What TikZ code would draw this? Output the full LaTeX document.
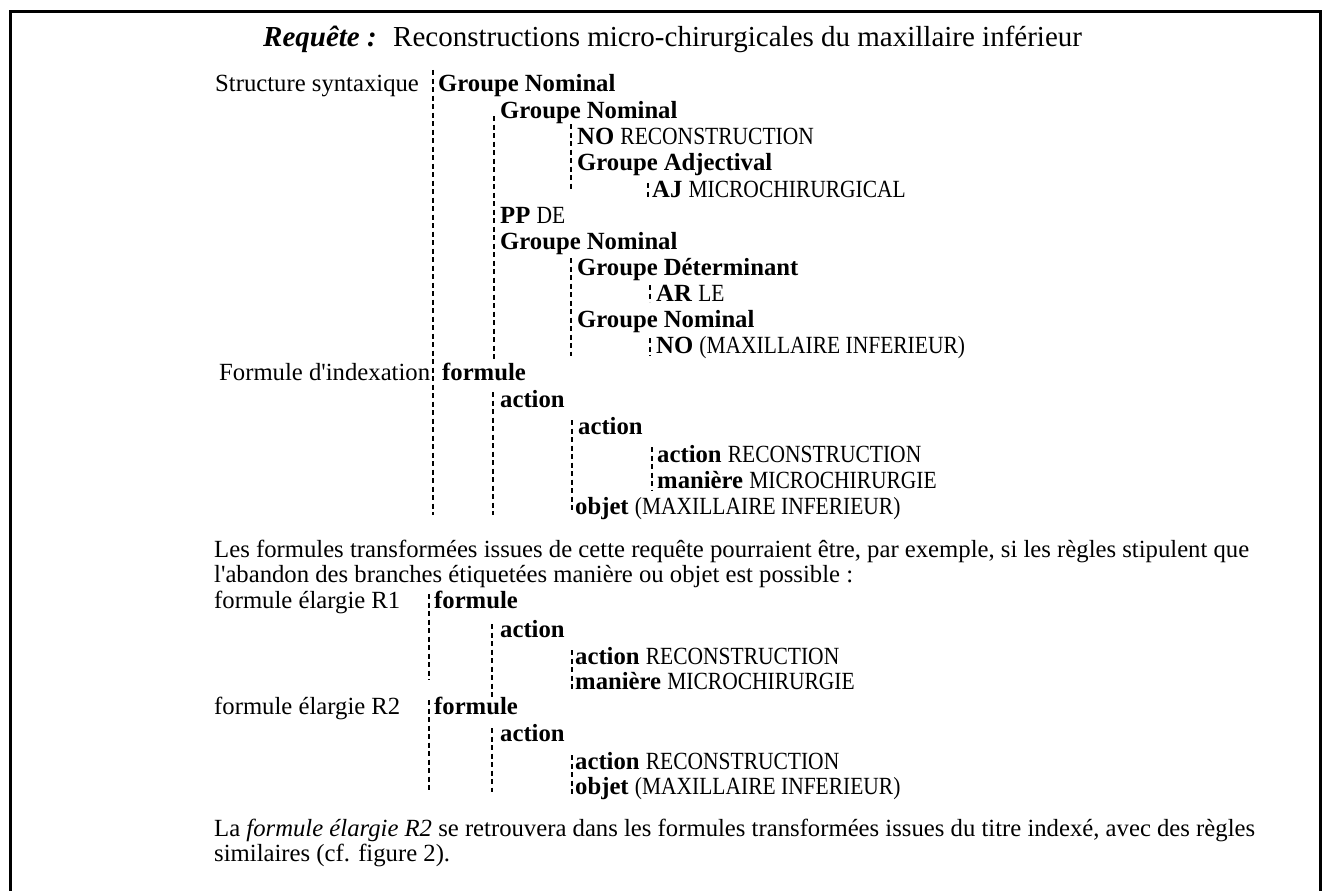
\documentclass[tikz,border=0pt]{standalone}
\usepackage{fontspec}
\setmainfont{Liberation Serif}
% narrower capitals for the indexed terms
\newfontfamily\capsfont[FakeStretch=0.87]{Liberation Serif}
\newcommand{\terme}[1]{{\capsfont #1}}
\tikzset{
  txt/.style={anchor=base west, inner sep=0pt, font=\fontsize{24.7}{26}\selectfont},
  head/.style={anchor=base west, inner sep=0pt, font=\fontsize{29}{31}\selectfont},
  guide/.style={draw=black, line width=1.2pt, dash pattern=on 5pt off 3.5pt},
  frame/.style={draw=black, line width=3pt}
}
\begin{document}
\begin{tikzpicture}[x=1pt,y=-1pt]
\useasboundingbox (0,0) rectangle (1330,891);
% outer frame (open at the bottom)
\draw[frame] (10,895) -- (10,12) -- (1320,12) -- (1320,895);

% heading
\node[head] (req) at (263,47) {\textbf{\textit{Requête :}}};
\node[head] (title) at (393,47) {Reconstructions micro-chirurgicales du maxillaire inférieur};

% syntactic structure
\node[txt] (lblS) at (215,91) {Structure syntaxique};
\node[txt] (gn1) at (438,91) {\textbf{Groupe Nominal}};
\node[txt] (gn2) at (500,118) {\textbf{Groupe Nominal}};
\node[txt] (no1) at (577,144) {\textbf{NO} \terme{RECONSTRUCTION}};
\node[txt] (ga)  at (577,170) {\textbf{Groupe Adjectival}};
\node[txt] (aj)  at (652,197) {\textbf{AJ} \terme{MICROCHIRURGICAL}};
\node[txt] (pp)  at (500,223) {\textbf{PP} \terme{DE}};
\node[txt] (gn3) at (500,249) {\textbf{Groupe Nominal}};
\node[txt] (gd)  at (577,275) {\textbf{Groupe Déterminant}};
\node[txt] (ar)  at (656,301) {\textbf{AR} \terme{LE}};
\node[txt] (gn4) at (577,327) {\textbf{Groupe Nominal}};
\node[txt] (no2) at (656,353) {\textbf{NO} \terme{(MAXILLAIRE INFERIEUR)}};

% indexing formula
\node[txt] (lblF) at (219,380) {Formule d\textquotesingle indexation};
\node[txt] (f0) at (442,380) {\textbf{formule}};
\node[txt] (a1) at (500,407) {\textbf{action}};
\node[txt] (a2) at (578,434) {\textbf{action}};
\node[txt] (a3) at (657,462) {\textbf{action} \terme{RECONSTRUCTION}};
\node[txt] (m1) at (657,488) {\textbf{manière} \terme{MICROCHIRURGIE}};
\node[txt] (o1) at (575,514) {\textbf{objet} \terme{(MAXILLAIRE INFERIEUR)}};

% explanatory text
\node[txt] (p1) at (214,557) {Les formules transformées issues de cette requête pourraient être, par exemple, si les règles stipulent que};
\node[txt] (p2) at (214,582) {l\textquotesingle abandon des branches étiquetées manière ou objet est possible :};

% widened formula R1
\node[txt] (lblR1) at (214,608) {formule élargie R1};
\node[txt] (r1f) at (434,608) {\textbf{formule}};
\node[txt] (r1a) at (500,637) {\textbf{action}};
\node[txt] (r1b) at (575,664) {\textbf{action} \terme{RECONSTRUCTION}};
\node[txt] (r1m) at (575,689) {\textbf{manière} \terme{MICROCHIRURGIE}};

% widened formula R2
\node[txt] (lblR2) at (214,714) {formule élargie R2};
\node[txt] (r2f) at (434,714) {\textbf{formule}};
\node[txt] (r2a) at (500,741) {\textbf{action}};
\node[txt] (r2b) at (575,769) {\textbf{action} \terme{RECONSTRUCTION}};
\node[txt] (r2o) at (575,794) {\textbf{objet} \terme{(MAXILLAIRE INFERIEUR)}};

% closing remark
\node[txt] (q1) at (214,836) {La \textit{formule élargie R2} se retrouvera dans les formules transformées issues du titre indexé, avec des règles};
\node[txt] (q2) at (214,861) {similaires (cf. figure 2).};

% tree guides of the first two trees
\coordinate (g1t) at (433,70);  \coordinate (g1b) at (433,515);
\coordinate (g2t) at (494,116); \coordinate (g2b) at (494,362);
\coordinate (g3t) at (571,124); \coordinate (g3b) at (571,190);
\coordinate (g4t) at (648,183); \coordinate (g4b) at (648,198);
\coordinate (g5t) at (571,258); \coordinate (g5b) at (571,356);
\coordinate (g6t) at (650,285); \coordinate (g6b) at (650,302);
\coordinate (g7t) at (650,338); \coordinate (g7b) at (650,356);
\coordinate (g8t) at (493,392); \coordinate (g8b) at (493,515);
\coordinate (g9t) at (572,420); \coordinate (g9b) at (572,512);
\coordinate (g10t) at (652,447); \coordinate (g10b) at (652,490);
\foreach \g in {g1,g2,g3,g4,g5,g6,g7,g8,g9,g10}
  \draw[guide] (\g t) -- (\g b);

% tree guides of R1 and R2
\coordinate (h1t) at (429,594); \coordinate (h1b) at (429,680);
\coordinate (h2t) at (492,624); \coordinate (h2b) at (492,698);
\coordinate (h3t) at (572,650); \coordinate (h3b) at (572,692);
\coordinate (k1t) at (429,700); \coordinate (k1b) at (429,792);
\coordinate (k2t) at (492,728); \coordinate (k2b) at (492,792);
\coordinate (k3t) at (572,755); \coordinate (k3b) at (572,795);
\foreach \g in {h1,h2,h3,k1,k2,k3}
  \draw[guide] (\g t) -- (\g b);
\end{tikzpicture}
\end{document}
